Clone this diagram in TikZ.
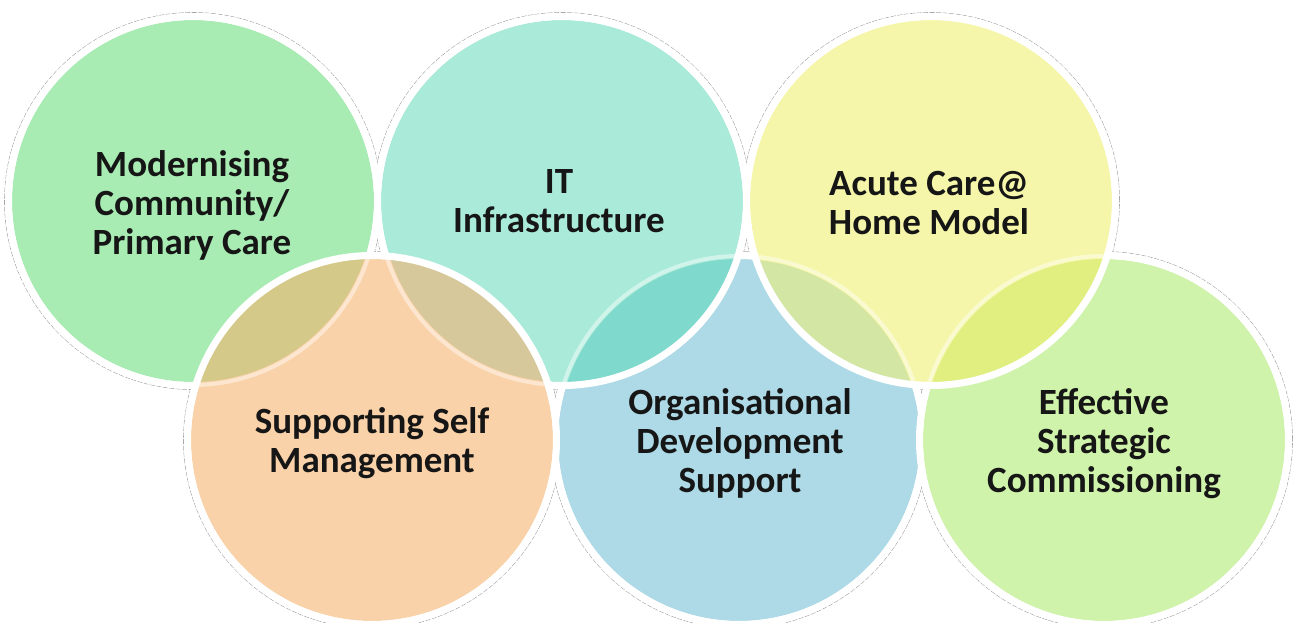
\documentclass[tikz,border=0pt]{standalone}
\usepackage{fontspec}
\setmainfont{Carlito}
\definecolor{colG}{HTML}{A8ECB4}
\definecolor{colT}{HTML}{A9EAD8}
\definecolor{colY}{HTML}{F6F6AA}
\definecolor{colO}{HTML}{FAD2A9}
\definecolor{colB}{HTML}{ADDAE6}
\definecolor{colL}{HTML}{CFF3AA}
\definecolor{ovGO}{HTML}{D5C98A}
\definecolor{ovTO}{HTML}{D6C89B}
\definecolor{ovTB}{HTML}{7FD9CC}
\definecolor{ovYB}{HTML}{D4E6A4}
\definecolor{ovYL}{HTML}{E0EF80}
\definecolor{txt}{HTML}{161616}
\begin{document}
\begin{tikzpicture}[x=1pt,y=-1pt,
  ring/.style={draw=white,line width=7pt},
  glow/.style={draw=black!35,line width=0.6pt,dash pattern=on 5pt off 1.5pt},
  lbl/.style={font=\bfseries\fontsize{37}{39}\selectfont,align=center,text=txt,inner sep=0pt}]
\useasboundingbox (0,0) rectangle (1296,623);
\fill[white] (0,0) rectangle (1296,623);
\coordinate (cG) at (193,201);
\coordinate (cT) at (562,201);
\coordinate (cY) at (931,201);
\coordinate (cO) at (372,440);
\coordinate (cB) at (739,440);
\coordinate (cL) at (1104,440);
\def\R{181pt}
\def\Rr{184.5pt}
\def\Rf{184pt}
% outer soft outline
\foreach \c in {cG,cT,cY,cO,cB,cL} \draw[glow] (\c) circle[radius=188.5pt];
\foreach \c in {cG,cT,cY,cO,cB,cL} \fill[white] (\c) circle[radius=188pt];
% blue
\fill[colB] (cB) circle[radius=\R];
\draw[ring] (cB) circle[radius=\Rr];
% light green
\fill[colL] (cL) circle[radius=\R];
\draw[ring] (cL) circle[radius=\Rr];
% green
\fill[colG] (cG) circle[radius=\R];
\draw[ring] (cG) circle[radius=\Rr];
% teal
\fill[colT] (cT) circle[radius=\R];
\begin{scope}\clip (cB) circle[radius=\R]; \fill[ovTB] (cT) circle[radius=\R];\end{scope}
\begin{scope}\clip (cT) circle[radius=\R]; \draw[colT!55!white,line width=4pt] (cB) circle[radius=\Rf];\end{scope}
\draw[ring] (cT) circle[radius=\Rr];
% yellow
\fill[colY] (cY) circle[radius=\R];
\begin{scope}\clip (cB) circle[radius=\R]; \fill[ovYB] (cY) circle[radius=\R];\end{scope}
\begin{scope}\clip (cL) circle[radius=\R]; \fill[ovYL] (cY) circle[radius=\R];\end{scope}
\begin{scope}\clip (cY) circle[radius=\R];
  \draw[colY!55!white,line width=4pt] (cB) circle[radius=\Rf];
  \draw[colY!55!white,line width=4pt] (cL) circle[radius=\Rf];\end{scope}
\draw[ring] (cY) circle[radius=\Rr];
% orange
\fill[colO] (cO) circle[radius=\R];
\begin{scope}\clip (cG) circle[radius=\R]; \fill[ovGO] (cO) circle[radius=\R];\end{scope}
\begin{scope}\clip (cT) circle[radius=\R]; \fill[ovTO] (cO) circle[radius=\R];\end{scope}
\begin{scope}\clip (cO) circle[radius=\R];
  \draw[colO!55!white,line width=4pt] (cG) circle[radius=\Rf];
  \draw[colO!55!white,line width=4pt] (cT) circle[radius=\Rf];\end{scope}
\draw[ring] (cO) circle[radius=\Rr];
% labels
\node[lbl] (tG) at (192,205) {Modernising\\Community/\\Primary Care};
\node[lbl] (tT) at (559,201) {IT\\Infrastructure};
\node[lbl] (tY) at (929,203) {Acute Care@\\Home Model};
\node[lbl] (tO) at (372,443) {Supporting Self\\Management};
\node[lbl] (tB) at (740,443) {Organisational\\Development\\Support};
\node[lbl] (tL) at (1104,444) {Effective\\Strategic\\Commissioning};
\end{tikzpicture}
\end{document}
